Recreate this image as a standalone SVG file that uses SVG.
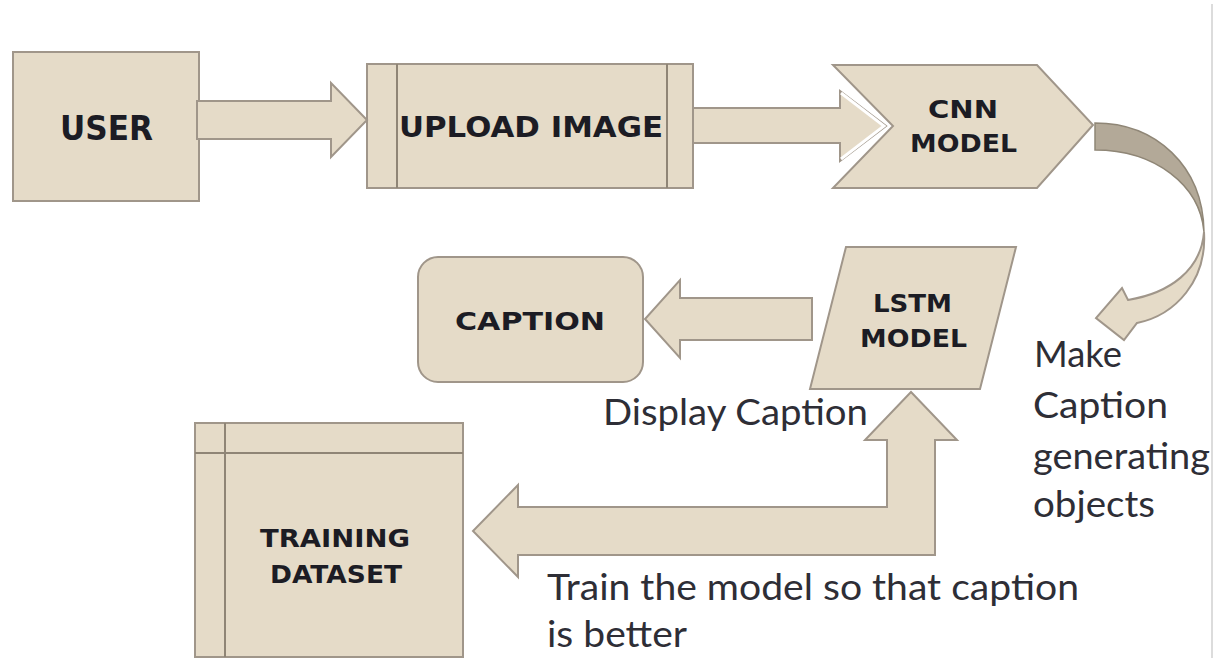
<svg xmlns="http://www.w3.org/2000/svg" width="1224" height="658" viewBox="0 0 1224 658">
  <style>
    .shape { fill: #e5dbc8; stroke: #a0968a; stroke-width: 2; stroke-linejoin: miter; }
    .divider { fill: none; stroke: #8f8576; stroke-width: 2; }
    .label { font-family: "DejaVu Sans", "Liberation Sans", sans-serif; font-weight: bold; fill: #1c1c24; text-anchor: start; }
    .note { font-family: Lato, "Liberation Sans", sans-serif; font-size: 37px; fill: #2e2e36; }
    .ribbon-back { fill: #b3a998; stroke: #8f8676; stroke-width: 1.5; }
  </style>

  <rect width="1224" height="658" fill="#ffffff"/>
  <line x1="1212" y1="4" x2="1212" y2="658" stroke="#dcdcdc" stroke-width="2"/>

  <!-- USER -->
  <g id="user">
    <rect class="shape" x="13" y="52" width="186" height="149"/>
    <text class="label" x="60" y="140" font-size="33" textLength="93" lengthAdjust="spacingAndGlyphs">USER</text>
  </g>

  <!-- UPLOAD IMAGE (process box with side bars) -->
  <g id="upload-image">
    <rect class="shape" x="367" y="64" width="326" height="124"/>
    <line class="divider" x1="397" y1="64" x2="397" y2="188"/>
    <line class="divider" x1="667" y1="64" x2="667" y2="188"/>
    <text class="label" x="399" y="137" font-size="28" textLength="264" lengthAdjust="spacingAndGlyphs">UPLOAD IMAGE</text>
  </g>

  <!-- CNN MODEL (chevron) -->
  <g id="cnn-model">
    <polygon class="shape" points="833,65 1037,65 1093,125 1037,188 833,188 893,126"/>
    <text class="label" x="928" y="118" font-size="24" textLength="70" lengthAdjust="spacingAndGlyphs">CNN</text>
    <text class="label" x="910" y="152" font-size="24" textLength="107" lengthAdjust="spacingAndGlyphs">MODEL</text>
  </g>

  <!-- LSTM MODEL (parallelogram) -->
  <g id="lstm-model">
    <polygon class="shape" points="846,247 1016,247 980,389 810,389"/>
    <text class="label" x="873" y="312" font-size="24" textLength="79" lengthAdjust="spacingAndGlyphs">LSTM</text>
    <text class="label" x="860" y="347" font-size="24" textLength="107" lengthAdjust="spacingAndGlyphs">MODEL</text>
  </g>

  <!-- CAPTION (rounded box) -->
  <g id="caption">
    <rect class="shape" x="418" y="257" width="225" height="125" rx="20" ry="20"/>
    <text class="label" x="455" y="330" font-size="24" textLength="150" lengthAdjust="spacingAndGlyphs">CAPTION</text>
  </g>

  <!-- TRAINING DATASET (internal storage) -->
  <g id="training-dataset">
    <rect class="shape" x="195" y="423" width="268" height="234"/>
    <line class="divider" x1="225" y1="423" x2="225" y2="657"/>
    <line class="divider" x1="195" y1="453" x2="463" y2="453"/>
    <text class="label" x="260" y="547" font-size="24" textLength="150" lengthAdjust="spacingAndGlyphs">TRAINING</text>
    <text class="label" x="270" y="583" font-size="24" textLength="132" lengthAdjust="spacingAndGlyphs">DATASET</text>
  </g>

  <!-- Block arrows between the stages -->
  <g id="connectors">
    <!-- USER to UPLOAD IMAGE -->
    <polygon class="shape" points="197,101 331,101 331,83 367,120 331,157 331,139 197,139"/>
    <!-- UPLOAD IMAGE to CNN MODEL -->
    <polygon class="shape" points="693,108 840,108 840,91 886,126 840,161 840,143 693,143"/>
    <polyline points="841,93 884,126 841,159" fill="none" stroke="#ffffff" stroke-width="3"/>
    <!-- CNN MODEL curving down to the caption generator -->
    <path class="ribbon-back" d="M1095,123 C1155,123 1203,165 1204,232 C1200,185 1155,150 1095,150 Z"/>
    <path class="shape" stroke-width="1.5" d="M1204,232 C1207,280 1176,315 1137,323 L1124,340 L1096,318 L1122,288 L1128,300 C1170,293 1201,270 1204,232 Z"/>
    <!-- LSTM MODEL to CAPTION -->
    <polygon class="shape" points="812,298 680,298 680,280 645,319 680,358 680,340 812,340"/>
    <!-- LSTM MODEL and TRAINING DATASET feedback -->
    <polygon class="shape" points="518,507 887,507 887,440 865,440 911,392 957,440 935,440 935,555 518,555 518,577 473,531 518,485"/>
  </g>

  <!-- Annotations -->
  <g id="annotations">
    <text class="note" x="603" y="425" textLength="265" lengthAdjust="spacingAndGlyphs">Display Caption</text>
    <text class="note" x="1034" y="367" textLength="88" lengthAdjust="spacingAndGlyphs">Make</text>
    <text class="note" x="1033" y="418" textLength="135" lengthAdjust="spacingAndGlyphs">Caption</text>
    <text class="note" x="1033" y="469" textLength="177" lengthAdjust="spacingAndGlyphs">generating</text>
    <text class="note" x="1033" y="517" textLength="122" lengthAdjust="spacingAndGlyphs">objects</text>
    <text class="note" x="547" y="600" textLength="532" lengthAdjust="spacingAndGlyphs">Train the model so that caption</text>
    <text class="note" x="547" y="647" textLength="140" lengthAdjust="spacingAndGlyphs">is better</text>
  </g>
</svg>
